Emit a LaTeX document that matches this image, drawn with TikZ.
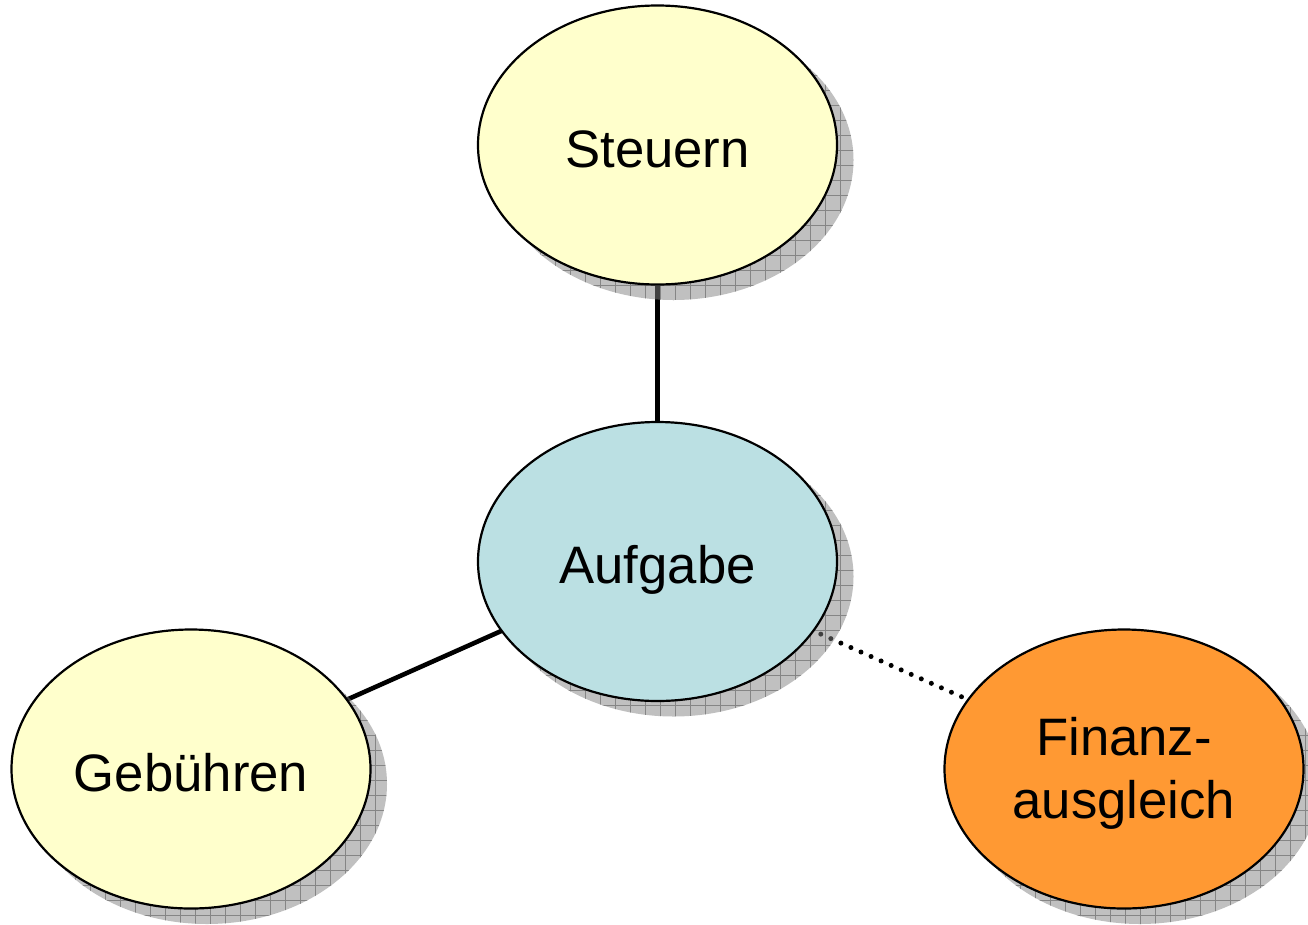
\documentclass[tikz,border=0pt]{standalone}
\usepackage{fontspec}
\setmainfont{Liberation Sans}
\usetikzlibrary{shapes.geometric,calc}
\definecolor{paleyellow}{HTML}{FFFFCC}
\definecolor{paleblue}{HTML}{BBE0E3}
\definecolor{orangefill}{HTML}{FF9933}
\definecolor{shadowgray}{HTML}{818181}
\definecolor{gridgray}{HTML}{858585}
\pgfdeclarelayer{lineslayer}
\pgfdeclarelayer{shadowlayer}
\pgfsetlayers{lineslayer,shadowlayer,main}
\tikzset{
  bubble/.style={ellipse, draw=black, line width=2.2pt, minimum width=359pt,
    minimum height=279pt, inner sep=0pt, outer sep=0pt, align=center,
    font=\fontsize{52.7}{63}\selectfont},
  oneline/.style={text height=44pt, text depth=0pt},
  connector/.style={line width=4.6pt, black},
  dottedconn/.style={line width=5pt, black, line cap=round, dash pattern=on 0pt off 11pt},
}
\newcommand\myshadow[1]{%
  \begin{scope}
    \path[fill=shadowgray, fill opacity=0.5] ($(#1.center)+(16,15)$) ellipse [x radius=180, y radius=140];
    \clip ($(#1.center)+(16,15)$) ellipse [x radius=180, y radius=140];
    \draw[gridgray, line width=0.8pt, step=15pt] ($(#1.center)+(-180,-150)$) grid ($(#1.center)+(210,170)$);
  \end{scope}}
\begin{document}
\begin{tikzpicture}[x=1pt,y=-1pt]
  \useasboundingbox (0,0) rectangle (1308,924);
  \node[bubble, oneline, fill=paleyellow] (steuern) at (657.5,145) {Steuern};
  \node[bubble, oneline, fill=paleblue] (aufgabe) at (657.5,561.5) {Aufgabe};
  \node[bubble, oneline, fill=paleyellow] (gebuehren) at (191,769) {Gebühren};
  \node[bubble, fill=orangefill] (finanz) at (1124,769) {\rule{0pt}{47pt}Finanz-\\ausgleich};
  \begin{pgfonlayer}{lineslayer}
    \draw[connector] (steuern) -- (aufgabe);
    \draw[connector] (gebuehren) -- (aufgabe);
    \draw[dottedconn] ($(aufgabe)!0.35!(finanz)$) -- (finanz);
  \end{pgfonlayer}
  \begin{pgfonlayer}{shadowlayer}
    \myshadow{steuern}
    \myshadow{aufgabe}
    \myshadow{gebuehren}
    \myshadow{finanz}
  \end{pgfonlayer}
\end{tikzpicture}
\end{document}
